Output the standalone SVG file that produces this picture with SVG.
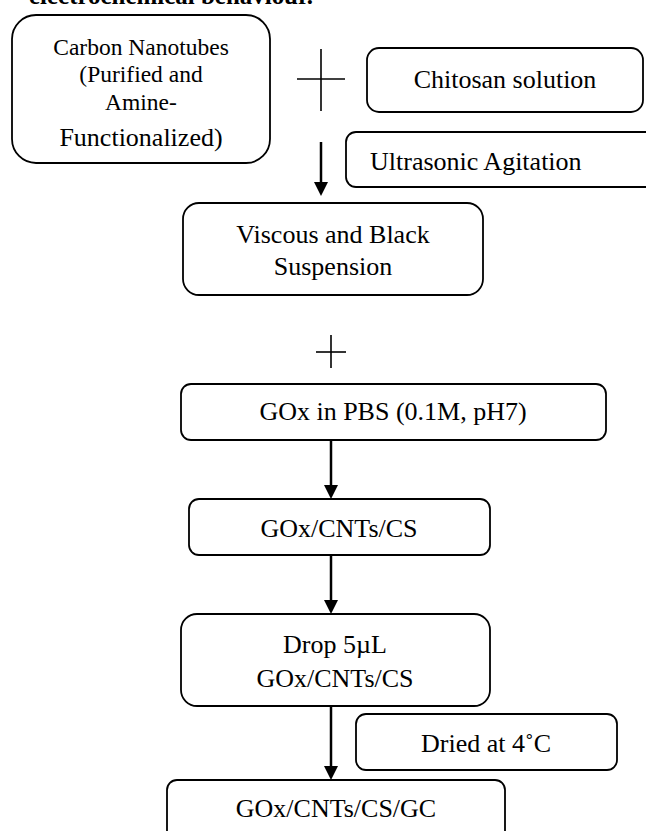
<svg xmlns="http://www.w3.org/2000/svg" width="646" height="831" viewBox="0 0 646 831">
<style>
.box{fill:#fff;stroke:#000;stroke-width:1.8}
.t{font-family:"Liberation Serif","Times New Roman",serif;font-size:26px;fill:#000;text-anchor:middle}
.ts{font-size:23.5px}
.arr{stroke:#000;stroke-width:2.5;fill:none}
.plus{stroke:#000;stroke-width:1.6;fill:none}
</style>
<defs>
<marker id="ah" markerUnits="userSpaceOnUse" markerWidth="14" markerHeight="14" refX="8" refY="7" orient="auto">
<path d="M0,0 L14,7 L0,14 z" fill="#000"/>
</marker>
</defs>
<rect width="646" height="831" fill="#fff"/>
<text x="29" y="4" font-family="Liberation Serif, serif" font-weight="bold" font-size="25" textLength="284" lengthAdjust="spacingAndGlyphs">electrochemical behaviour.</text>

<g id="cnt">
<rect class="box" x="12" y="15" width="258" height="148" rx="24"/>
<text class="t ts" x="141" y="55">Carbon Nanotubes</text>
<text class="t ts" x="141" y="82">(Purified and</text>
<text class="t ts" x="141" y="110">Amine-</text>
<text class="t" x="141" y="146">Functionalized)</text>
</g>
<g id="plus1">
<line class="plus" x1="297" y1="79" x2="345" y2="79"/>
<line class="plus" x1="321" y1="49" x2="321" y2="111"/>
</g>
<g id="chitosan">
<rect class="box" x="367" y="48" width="276" height="64" rx="12"/>
<text class="t" x="505" y="88">Chitosan solution</text>
</g>
<g id="ultrasonic">
<rect class="box" x="346" y="132" width="320" height="55" rx="10"/>
<text class="t" x="370" y="170" style="text-anchor:start">Ultrasonic Agitation</text>
</g>
<g id="viscous">
<rect class="box" x="183" y="203" width="300" height="92" rx="16"/>
<text class="t" x="333" y="243">Viscous and Black</text>
<text class="t" x="333" y="275">Suspension</text>
</g>
<g id="plus2">
<line class="plus" x1="316" y1="352" x2="346" y2="352"/>
<line class="plus" x1="331" y1="335" x2="331" y2="368"/>
</g>
<g id="gox">
<rect class="box" x="181" y="384" width="425" height="56" rx="10"/>
<text class="t" x="393" y="420">GOx in PBS (0.1M, pH7)</text>
</g>
<g id="goxcnt">
<rect class="box" x="189" y="499" width="301" height="56" rx="10"/>
<text class="t" x="339" y="537">GOx/CNTs/CS</text>
</g>
<g id="drop">
<rect class="box" x="181" y="614" width="309" height="92" rx="16"/>
<text class="t" x="335" y="653">Drop 5µL</text>
<text class="t" x="335" y="687">GOx/CNTs/CS</text>
</g>
<g id="dried">
<rect class="box" x="356" y="714" width="261" height="56" rx="10"/>
<text class="t" x="486" y="752">Dried at 4˚C</text>
</g>
<g id="final">
<rect class="box" x="167" y="780" width="338" height="70" rx="10"/>
<text class="t" x="336" y="817">GOx/CNTs/CS/GC</text>
</g>
<g id="connectors">
<line class="arr" x1="321" y1="142" x2="321" y2="190" marker-end="url(#ah)"/>
<line class="arr" x1="331" y1="440" x2="331" y2="493" marker-end="url(#ah)"/>
<line class="arr" x1="331" y1="555" x2="331" y2="608" marker-end="url(#ah)"/>
<line class="arr" x1="331" y1="706" x2="331" y2="774" marker-end="url(#ah)"/>
</g>
</svg>
